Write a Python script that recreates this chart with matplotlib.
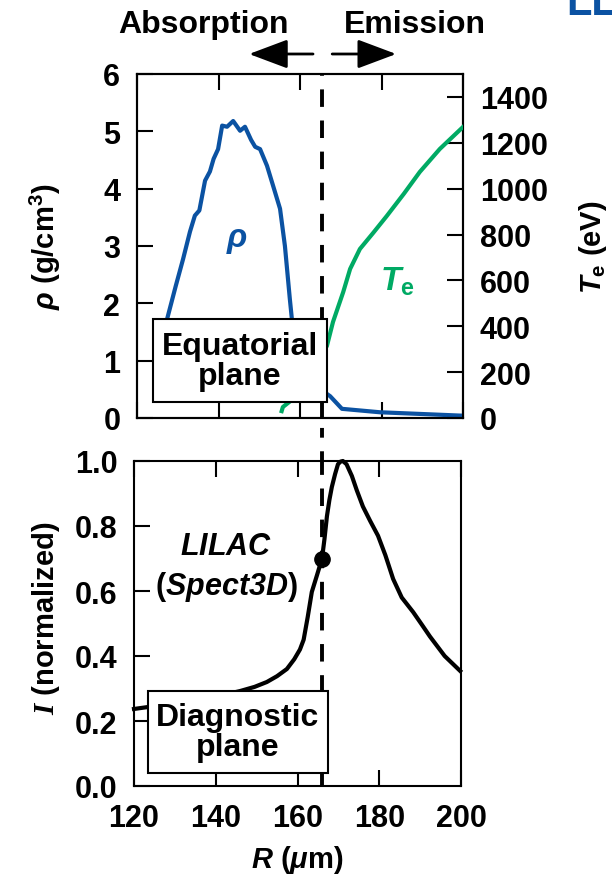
import numpy as np
import matplotlib
matplotlib.use("Agg")
import matplotlib.pyplot as plt
from matplotlib.patches import Rectangle
from matplotlib.lines import Line2D

plt.rcParams['font.family'] = ['Liberation Sans', 'DejaVu Sans']
plt.rcParams['font.weight'] = 'bold'
plt.rcParams['axes.labelweight'] = 'bold'
plt.rcParams['mathtext.fontset'] = 'custom'
plt.rcParams['mathtext.rm'] = 'Liberation Sans:bold'
plt.rcParams['mathtext.it'] = 'Liberation Sans:bold:italic'
plt.rcParams['mathtext.bf'] = 'Liberation Sans:bold'
plt.rcParams['mathtext.sf'] = 'Liberation Sans:bold:italic'
plt.rcParams['mathtext.cal'] = 'Liberation Serif:bold:italic'

# DATA
rho_R = [124.5, 126.0, 127.4, 129.5, 131.3, 133.0, 134.2, 135.3, 136.7, 137.9, 138.8, 139.9,
         140.9, 142.1, 143.6, 145.3, 146.5, 148.0, 149.0, 150.2, 151.9, 153.4, 155.1, 156.3,
         157.5, 158.0, 160.0, 163.0, 166.6, 167.4, 170.3, 179.6, 200.0]
rho = [0.5, 1.1, 1.73, 2.3, 2.77, 3.25, 3.53, 3.62, 4.14, 4.30, 4.52, 4.69,
       5.10, 5.08, 5.18, 5.01, 5.08, 4.85, 4.73, 4.69, 4.40, 4.05, 3.65, 3.00,
       2.08, 1.73, 1.00, 0.55, 0.42, 0.38, 0.16, 0.10, 0.04]

Te_R = [155.5, 155.8, 158.3, 162.0, 166.6, 168.1, 170.6, 172.3, 174.7, 178.0, 181.3, 185.5,
        189.4, 194.3, 200.0]
Te = [30, 48, 83, 190, 314, 419, 549, 650, 737, 808, 881, 978, 1073, 1173, 1269]

I_R = [120.0, 123.4, 130.0, 136.0, 141.0, 145.9, 149.5, 152.5, 155.0, 157.4, 159.2, 160.6,
       161.5, 162.5, 163.5, 164.8, 166.0, 166.6, 167.2, 167.8, 168.4, 169.2, 169.9, 170.5,
       171.1, 172.0, 173.3, 174.5, 176.0, 177.8, 179.7, 181.5, 183.4, 185.5, 188.3, 190.5,
       192.4, 196.0, 199.8]
I_norm = [0.237, 0.243, 0.255, 0.265, 0.278, 0.292, 0.305, 0.32, 0.338, 0.36, 0.39, 0.42,
          0.45, 0.52, 0.597, 0.65, 0.70, 0.76, 0.83, 0.88, 0.92, 0.96, 0.99, 0.998,
          1.0, 0.99, 0.954, 0.91, 0.86, 0.815, 0.77, 0.71, 0.637, 0.58, 0.535, 0.495,
          0.46, 0.40, 0.354]

R_cut = 166.0
I_cut = 0.70

x_ticks = [120, 140, 160, 180, 200]
rho_ticks = [0, 1, 2, 3, 4, 5, 6]
Te_ticks = [0, 200, 400, 600, 800, 1000, 1200, 1400]
I_ticks = [0.0, 0.2, 0.4, 0.6, 0.8, 1.0]

blue = '#0b52a2'
green = '#00aa64'
W, H = 612, 878
dash = (0, (4.5, 3.5))

fig = plt.figure(figsize=(W / 100, H / 100), dpi=100)
ax1 = fig.add_axes([137 / W, 1 - 419 / H, 326 / W, 344 / H])
ax3 = fig.add_axes([134 / W, 1 - 787 / H, 327 / W, 325 / H])
ax2 = ax1.twinx()

tick_kw = dict(direction='in', length=11.5, width=1.5, labelsize=22, pad=12)

# TOP PANEL
ax1.plot(rho_R, rho, color=blue, lw=3, zorder=3, solid_joinstyle='round')
ax2.plot(Te_R, Te, color=green, lw=3, zorder=3, solid_joinstyle='round')
ax1.set_xlim(120, 200)
ax1.set_ylim(0, 6)
ax2.set_ylim(0, 1500)
ax1.set_xticks(x_ticks)
ax1.set_yticks(rho_ticks)
ax2.set_yticks(Te_ticks)
ax1.tick_params(axis='both', top=True, bottom=True, labelbottom=False, **tick_kw)
ax1.tick_params(axis='y', right=False)
ax2.tick_params(axis='y', **tick_kw)
for a in (ax1, ax2):
    for s in a.spines.values():
        s.set_linewidth(1.5)
ax1.set_ylabel(r'$\rho$ (g/cm$^3$)', fontsize=21, va='center')
ax1.yaxis.set_label_coords(-0.282, 0.5)
ax2.set_ylabel(r'$T_\mathrm{e}$ (eV)', fontsize=21, va='center', rotation=90)
ax2.yaxis.set_label_coords(1.40, 0.5)
ax1.text(144.5, 3.12, r'$\rho$', color=blue, fontsize=24, ha='center', va='center')
ax1.text(183.8, 2.39, r'$T_\mathrm{e}$', color=green, fontsize=24, ha='center', va='center')

ax2.add_patch(Rectangle((0.049, 0.0465), 0.534, 0.2415, transform=ax2.transAxes,
                        facecolor='white', edgecolor='black', lw=1.5, zorder=6))
ax2.text(0.316, 0.167, 'Equatorial\nplane', transform=ax2.transAxes, fontsize=23,
         ha='center', va='center', linespacing=1.0, zorder=7)

# BOTTOM PANEL
ax3.plot(I_R, I_norm, color='black', lw=3, zorder=3, clip_on=False, solid_joinstyle='round')
ax3.plot([R_cut], [I_cut], 'o', color='black', ms=11, zorder=5)
ax3.axvline(R_cut, color='black', lw=2.8, ls=dash, zorder=4)
ax3.set_xlim(120, 200)
ax3.set_ylim(0, 1.0)
ax3.set_xticks(x_ticks)
ax3.set_yticks(I_ticks)
ax3.set_yticklabels(['%.1f' % v for v in I_ticks])
ax3.tick_params(axis='both', top=True, right=False, **tick_kw)
for s in ax3.spines.values():
    s.set_linewidth(1.5)
ax3.set_ylabel(r'$\mathcal{I}$ (normalized)', fontsize=21, va='center')
ax3.yaxis.set_label_coords(-0.27, 0.52)
ax3.set_xlabel(r'$R$ ($\mu$m)', fontsize=21, va='center')
ax3.xaxis.set_label_coords(0.498, -0.225)
ax3.text(142.5, 0.738, r'$LILAC$', fontsize=22, ha='center', va='center')
ax3.text(142.5, 0.615, r'($\mathsf{Spect3D}$)', fontsize=22, ha='center', va='center')
ax3.add_patch(Rectangle((0.043, 0.040), 0.550, 0.252, transform=ax3.transAxes,
                        facecolor='white', edgecolor='black', lw=1.5, zorder=6))
ax3.text(0.318, 0.166, 'Diagnostic\nplane', transform=ax3.transAxes, fontsize=23,
         ha='center', va='center', linespacing=1.0, zorder=7)

# the cut line sits at the same figure x in both panels
fig.canvas.draw()
px = ax3.transData.transform((R_cut, 0))[0]
R_top = ax1.transData.inverted().transform((px, 0))[0]
ax1.axvline(R_top, color='black', lw=2.8, ls=dash, zorder=4)
inv = fig.transFigure.inverted()
xf = inv.transform((px, 0))[0]
y_top_of_ax3 = ax3.get_position().y1
y_bot_of_ax1 = ax1.get_position().y0
fig.add_artist(Line2D([xf, xf], [y_top_of_ax3, y_bot_of_ax1], color='black', lw=2.8,
                      ls=(0, (2.5, 3.5))))

# absorption / emission arrows
ya = 1 - 55 / H
arrow_kw = dict(arrowstyle='-|>,head_length=1.6,head_width=0.6', lw=2.0,
                color='black', mutation_scale=15, shrinkA=0, shrinkB=0)
ax1.annotate('', xy=(147.5, ya), xytext=(163.2, ya),
             xycoords=('data', 'figure fraction'), textcoords=('data', 'figure fraction'),
             arrowprops=arrow_kw)
ax1.annotate('', xy=(183.6, ya), xytext=(167.9, ya),
             xycoords=('data', 'figure fraction'), textcoords=('data', 'figure fraction'),
             arrowprops=arrow_kw)
fig.text(203 / W, 1 - 25 / H, 'Absorption', fontsize=23, ha='center', va='center')
fig.text(415 / W, 1 - 25 / H, 'Emission', fontsize=23, ha='center', va='center')

# cropped logo at top right corner
fig.text(566 / W, 1 - 15 / H, 'LLE', fontsize=30, color=blue, ha='left', va='baseline')

fig.savefig('out.png', dpi=100)
